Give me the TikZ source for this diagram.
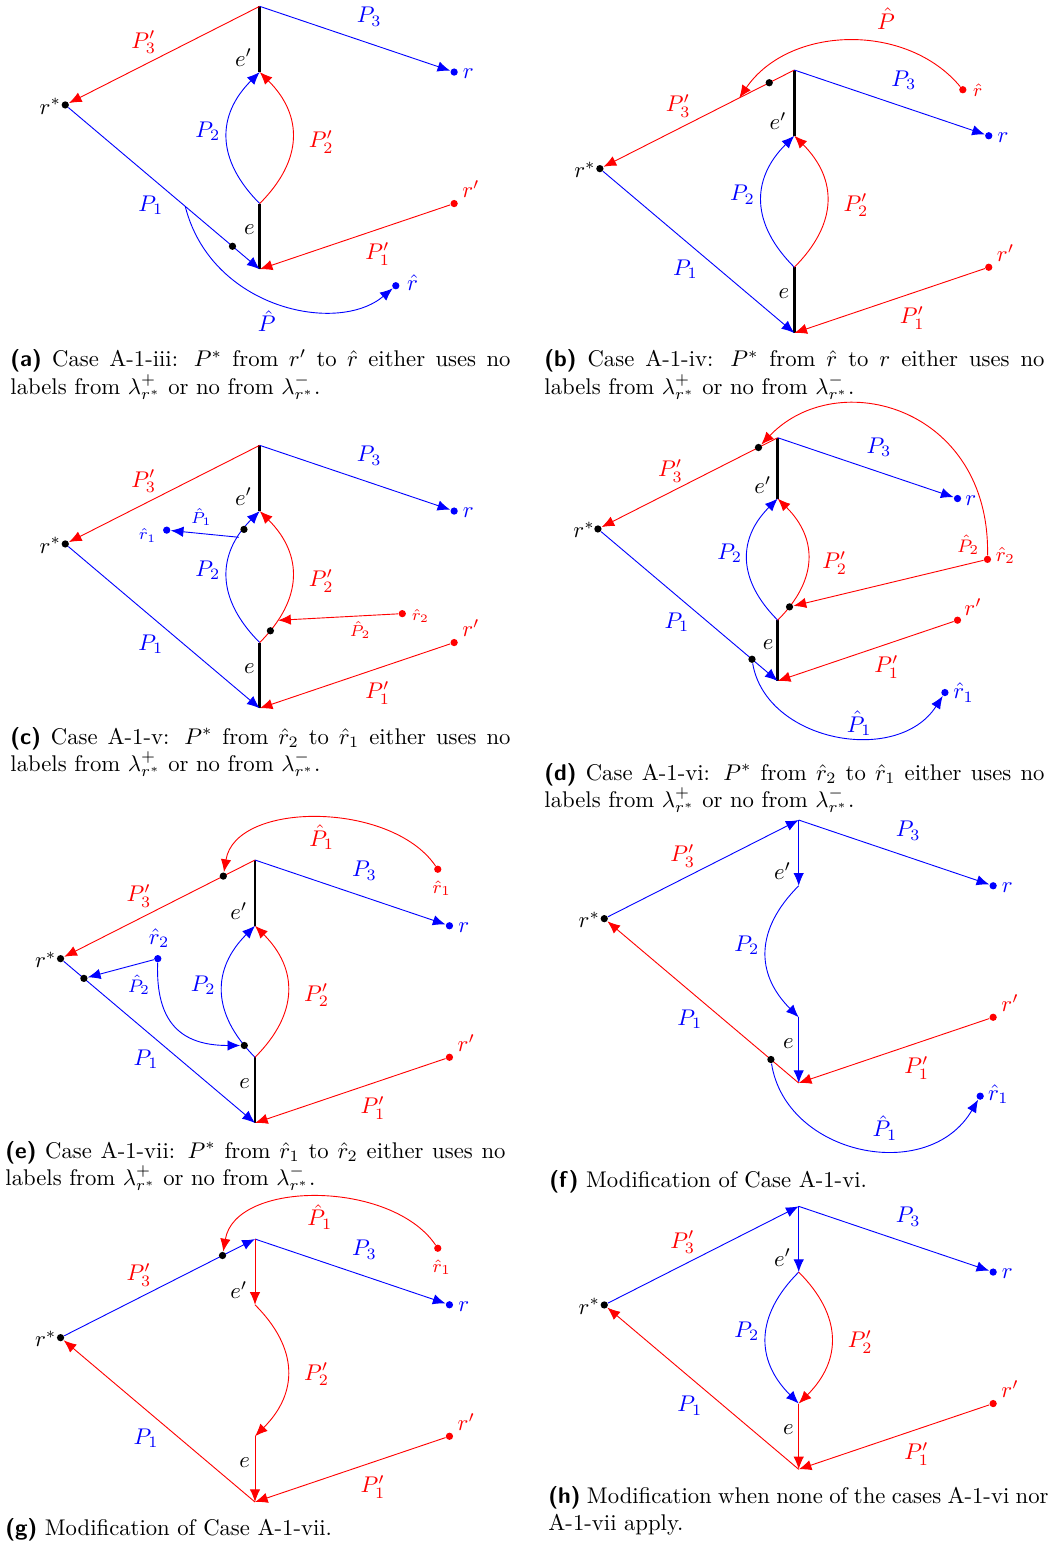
\documentclass[tikz,border=0pt]{standalone}
\usepackage{amsmath}
\usetikzlibrary{arrows.meta,calc}
\pgfdeclarelayer{bg}
\pgfsetlayers{bg,main}
\tikzset{
  arr/.style={-{Latex[length=5.6pt,width=4.6pt]}},
  edgebk/.style={line width=1.3pt,black},
  dotn/.style={circle,inner sep=0pt,minimum size=3.2pt},
  bdot/.style={dotn,fill=black},
  rdot/.style={dotn,fill=red},
  udot/.style={dotn,fill=blue},
  lbl/.style={inner sep=0pt},
  capbox/.style={text width=220.3pt,align=justify,inner sep=0pt,anchor=base west},
  pnl/.style={x=28.55pt,y=28.96pt},
  pnld/.style={x=26.40pt,y=26.79pt},
}
\newcommand\capl[1]{\textsf{\textbf{(#1)}}}
\newcommand\basepts{%
  \coordinate (T) at (0,4);
  \coordinate (E1) at (0,3);
  \coordinate (E2) at (0,1);
  \coordinate (B) at (0,0);
  \node[bdot] (rs) at (-3,2.5) {};
  \node[udot] (r) at (3,3) {};
  \node[rdot] (rp) at (3,1) {};
  \node[lbl] (lrs) at (-3.23,2.48) {$r^*$};
  \node[lbl,blue] (lr) at (3.22,2.97) {$r$};
  \node[lbl,red] (lrp) at (3.26,1.22) {$r'$};
  \node[lbl,blue] (lP3) at (1.69,3.84) {$P_3$};
  \node[lbl,red] (lP3p) at (-1.79,3.45) {$P'_3$};
  \node[lbl] (lep) at (-0.25,3.22) {$e'$};
  \node[lbl,blue] (lP1) at (-1.68,0.97) {$P_1$};
  \node[lbl] (le) at (-0.16,0.6) {$e$};
  \node[lbl,red] (lP1p) at (1.82,0.23) {$P'_1$};
}
\newcommand\labPtwo{\node[lbl,blue] (lP2) at (-0.8,2.1) {$P_2$};}
\newcommand\labPtwop{\node[lbl,red] (lP2p) at (0.95,1.94) {$P'_2$};}
\newcommand\baselinesA{%
  \begin{pgfonlayer}{bg}
  \draw[edgebk] (T) -- (E1);
  \draw[edgebk] (E2) -- (B);
  \draw[red,arr] (T) -- (rs);
  \draw[blue,arr] (T) -- (r);
  \draw[blue,arr] (E2) to[out=135,in=-135,looseness=1.2]
     coordinate[pos=0.09] (ql1) coordinate[pos=0.8] (ql8) coordinate[pos=0.86] (ql9) (E1);
  \draw[red,arr] (E2) to[out=45,in=-45,looseness=1.2]
     coordinate[pos=0.09] (qr1) coordinate[pos=0.11] (qr2) coordinate[pos=0.17] (qr3) (E1);
  \draw[blue,arr] (rs) -- (B);
  \draw[red,arr] (rp) -- (B);
  \end{pgfonlayer}}
\begin{document}
\begin{tikzpicture}[x=0.4405pt,y=-0.4405pt]
\useasboundingbox (0,0) rectangle (1062,1541);

% ---------------- (a)
\begin{scope}[shift={(259.7,269.3)}]\begin{scope}[pnl]
\basepts \labPtwo \labPtwop
\baselinesA
\node[bdot] (pa1) at ($(rs)!0.86!(B)$) {};
\coordinate (pa0) at ($(rs)!0.617!(B)$);
\node[udot] (rh) at (2.1,-0.25) {};
\node[lbl,blue] (lrh) at (2.36,-0.21) {$\hat r$};
\node[lbl,blue] (lPh) at (0.11,-0.79) {$\hat P$};
\begin{pgfonlayer}{bg}
\draw[blue,arr] (pa0) .. controls (-0.75,-0.6) and (1.2,-1.0) .. (rh);
\end{pgfonlayer}
\end{scope}\end{scope}

% ---------------- (b)
\begin{scope}[shift={(794.3,333)}]\begin{scope}[pnl]
\basepts \labPtwo \labPtwop
\baselinesA
\node[rdot] (rh) at (2.6,3.7) {};
\node[lbl,red,font=\footnotesize] (lrh) at (2.83,3.7) {$\hat r$};
\node[bdot] (pb1) at ($(rs)!0.871!(T)$) {};
\coordinate (pb0) at ($(rs)!0.717!(T)$);
\node[lbl,red] (lPh) at (1.415,4.78) {$\hat P$};
\begin{pgfonlayer}{bg}
\draw[red,arr] (rh) .. controls (1.73,4.73) and (-0.08,4.68) .. (pb0);
\end{pgfonlayer}
\end{scope}\end{scope}

% ---------------- (c)
\begin{scope}[shift={(259.7,708.3)}]\begin{scope}[pnl]
\basepts \labPtwo \labPtwop
\baselinesA
\node[bdot] (pc1) at (ql9) {};
\node[udot] (rh1) at (-1.435,2.71) {};
\node[bdot] (pc2) at (qr1) {};
\node[rdot] (rh2) at (2.2,1.44) {};
\node[lbl,blue,font=\scriptsize] (lrh1) at (-1.73,2.63) {$\hat r_1$};
\node[lbl,blue,font=\scriptsize] (lPh1) at (-0.9,2.91) {$\hat P_1$};
\node[lbl,red,font=\scriptsize] (lrh2) at (2.48,1.4) {$\hat r_2$};
\node[lbl,red,font=\scriptsize] (lPh2) at (1.55,1.19) {$\hat P_2$};
\begin{pgfonlayer}{bg}
\draw[blue,arr] (ql8) -- (rh1);
\draw[red,arr] (rh2) -- (qr3);
\end{pgfonlayer}
\end{scope}\end{scope}

% ---------------- (d)
\begin{scope}[shift={(777.7,681)}]\begin{scope}[pnld]
\basepts \labPtwo \labPtwop
\baselinesA
\node[bdot] (pd1) at ($(rs)!0.893!(T)$) {};
\node[rdot] (rh2) at (3.5,2) {};
\node[bdot] (pd2) at (qr2) {};
\node[bdot] (pd3) at ($(rs)!0.857!(B)$) {};
\node[udot] (rh1) at (2.79,-0.19) {};
\node[lbl,red,font=\footnotesize] (lPh2) at (3.18,2.24) {$\hat P_2$};
\node[lbl,red,font=\small] (lrh2) at (3.8,2.07) {$\hat r_2$};
\node[lbl,blue] (lrh1) at (3.1,-0.19) {$\hat r_1$};
\node[lbl,blue] (lPh1) at (1.36,-0.69) {$\hat P_1$};
\begin{pgfonlayer}{bg}
\draw[red,arr] (rh2) .. controls (3.55,4.5) and (1.0,5.2) .. (pd1);
\draw[red,arr] (rh2) -- (pd2);
\draw[blue,arr] (pd3) .. controls (-0.2,-1.0) and (2.0,-1.4) .. (rh1);
\end{pgfonlayer}
\end{scope}\end{scope}

% ---------------- (e)
\begin{scope}[shift={(255,1123)}]\begin{scope}[pnl]
\basepts \labPtwo \labPtwop
\baselinesA
\node[rdot] (rh1) at (2.82,3.86) {};
\node[bdot] (pe1) at ($(rs)!0.837!(T)$) {};
\node[udot] (rh2) at (-1.5,2.5) {};
\node[bdot] (pe2) at ($(rs)!0.12!(B)$) {};
\node[bdot] (pe3) at (ql1) {};
\node[lbl,red] (lPh1) at (1.03,4.35) {$\hat P_1$};
\node[lbl,red,font=\footnotesize] (lrh1) at (2.88,3.57) {$\hat r_1$};
\node[lbl,blue] (lrh2) at (-1.48,2.81) {$\hat r_2$};
\node[lbl,blue,font=\footnotesize] (lPh2) at (-1.79,2.1) {$\hat P_2$};
\begin{pgfonlayer}{bg}
\draw[red,arr] (rh1) .. controls (2.1,4.9) and (-0.3,4.9) .. (pe1);
\draw[blue,arr] (rh2) -- (pe2);
\draw[blue,arr] (rh2) to[out=-92,in=180,looseness=1.3] (pe3);
\end{pgfonlayer}
\end{scope}\end{scope}

% ---------------- (f)
\begin{scope}[shift={(798.7,1083)}]\begin{scope}[pnl]
\basepts \labPtwo
\node[bdot] (pf1) at ($(rs)!0.857!(B)$) {};
\node[udot] (rh1) at (2.8,-0.2) {};
\node[lbl,blue] (lrh1) at (3.08,-0.17) {$\hat r_1$};
\node[lbl,blue] (lPh1) at (1.33,-0.68) {$\hat P_1$};
\begin{pgfonlayer}{bg}
\draw[blue,arr] (rs) -- (T);
\draw[blue,arr] (T) -- (r);
\draw[blue,arr] (T) -- (E1);
\draw[blue,arr] (E1) to[out=-135,in=135,looseness=1.2] (E2);
\draw[blue,arr] (E2) -- (B);
\draw[red,arr] (B) -- (rs);
\draw[red,arr] (rp) -- (B);
\draw[blue,arr] (pf1) .. controls (-0.2,-1.1) and (2.0,-1.55) .. (rh1);
\end{pgfonlayer}
\end{scope}\end{scope}

% ---------------- (g)
\begin{scope}[shift={(255,1502)}]\begin{scope}[pnl]
\basepts \labPtwop
\node[rdot] (rh1) at (2.82,3.86) {};
\node[bdot] (pg1) at ($(rs)!0.833!(T)$) {};
\node[lbl,red] (lPh1) at (1.0,4.34) {$\hat P_1$};
\node[lbl,red,font=\footnotesize] (lrh1) at (2.88,3.57) {$\hat r_1$};
\begin{pgfonlayer}{bg}
\draw[blue,arr] (rs) -- (T);
\draw[blue,arr] (T) -- (r);
\draw[red,arr] (T) -- (E1);
\draw[red,arr] (E1) to[out=-45,in=45,looseness=1.2] (E2);
\draw[red,arr] (E2) -- (B);
\draw[red,arr] (B) -- (rs);
\draw[red,arr] (rp) -- (B);
\draw[red,arr] (rh1) .. controls (2.1,4.9) and (-0.3,4.9) .. (pg1);
\end{pgfonlayer}
\end{scope}\end{scope}

% ---------------- (h)
\begin{scope}[shift={(798.7,1469.3)}]\begin{scope}[pnl]
\basepts \labPtwo \labPtwop
\begin{pgfonlayer}{bg}
\draw[blue,arr] (rs) -- (T);
\draw[blue,arr] (T) -- (r);
\draw[blue,arr] (T) -- (E1);
\draw[blue,arr] (E1) to[out=-135,in=135,looseness=1.2] (E2);
\draw[red,arr] (E1) to[out=-45,in=45,looseness=1.2] (E2);
\draw[red,arr] (E2) -- (B);
\draw[red,arr] (B) -- (rs);
\draw[red,arr] (rp) -- (B);
\end{pgfonlayer}
\end{scope}\end{scope}

% ---------------- captions
\node[capbox] (capa) at (10,367) {\capl{a} Case A-1-iii: $P^*$ from $r'$ to $\hat{r}$ either uses no labels from $\lambda^+_{r^*}$ or no from $\lambda^-_{r^*}$.};
\node[capbox] (capb) at (544,367) {\capl{b} Case A-1-iv: $P^*$ from $\hat{r}$ to $r$ either uses no labels from $\lambda^+_{r^*}$ or no from $\lambda^-_{r^*}$.};
\node[capbox] (capc) at (10,744) {\capl{c} Case A-1-v: $P^*$ from $\hat{r}_2$ to $\hat{r}_1$ either uses no labels from $\lambda^+_{r^*}$ or no from $\lambda^-_{r^*}$.};
\node[capbox] (capd) at (544,780) {\capl{d} Case A-1-vi: $P^*$ from $\hat{r}_2$ to $\hat{r}_1$ either uses no labels from $\lambda^+_{r^*}$ or no from $\lambda^-_{r^*}$.};
\node[capbox] (cape) at (5,1158) {\capl{e} Case A-1-vii: $P^*$ from $\hat{r}_1$ to $\hat{r}_2$ either uses no labels from $\lambda^+_{r^*}$ or no from $\lambda^-_{r^*}$.};
\node[capbox] (capf) at (549,1187) {\capl{f} Modification of Case A-1-vi.};
\node[capbox] (capg) at (5,1535) {\capl{g} Modification of Case A-1-vii.};
\node[capbox] (caph) at (548,1503) {\capl{h} Modification when none of the cases A-1-vi nor A-1-vii apply.};
\end{tikzpicture}
\end{document}
